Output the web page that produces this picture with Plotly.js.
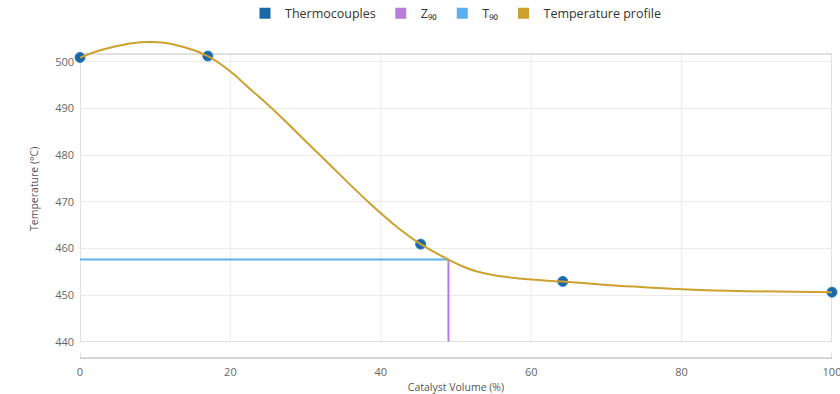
<!DOCTYPE html>
<html>
<head>
<meta charset="utf-8">
<script src="https://cdn.plot.ly/plotly-3.0.1.min.js"></script>
<style>html,body{margin:0;padding:0;background:#fff;}#chart{width:840px;height:394px;}</style>
</head>
<body>
<div id="chart"></div>
<script>
// Thermocouple readings
const tcVolume = [0, 17.0, 45.3, 64.2, 100];
const tcTemp = [500.9, 501.2, 460.9, 452.9, 450.6];

// Temperature profile curve
const profileVolume = [0, 4, 9.7, 14.1, 17.0, 20, 22.5, 25.5, 31.9, 38.3, 42.6, 45.3, 49.0, 51.4, 53.6, 56, 60, 64.2, 73.6, 82.4, 100];
const profileTemp = [500.9, 503.0, 504.2, 503.0, 501.2, 497.9, 494.3, 490, 480, 470, 464.0, 460.9, 457.6, 455.8, 454.7, 454.0, 453.3, 452.9, 451.8, 451.1, 450.6];

// Z90 / T90 markers
const z90 = 49.0;
const t90 = 457.6;

// Axis ticks
const xTicks = [0, 20, 40, 60, 80, 100];
const yTicks = [440, 450, 460, 470, 480, 490, 500];
const yMin = 440, yFrameTop = 501.65, yTop = 505.5;

const cBlue = '#1a68a8', cPurple = '#b57edc', cLight = '#5db0ec', cGold = '#cda12d';

const traces = [
  {x: [0, z90], y: [t90, t90], mode: 'lines', line: {color: cLight, width: 2}, showlegend: false, hoverinfo: 'skip'},
  {x: [z90, z90], y: [yMin, t90], mode: 'lines', line: {color: cPurple, width: 2}, showlegend: false, hoverinfo: 'skip'},
  {x: tcVolume, y: tcTemp, mode: 'markers', marker: {color: cBlue, size: 10, line: {color: '#2b7fc2', width: 1}}, showlegend: false, cliponaxis: false},
  {x: profileVolume, y: profileTemp, mode: 'lines', line: {color: cGold, width: 2, shape: 'spline', smoothing: 1.3}, showlegend: false},
  // legend entries
  {x: [null], y: [null], mode: 'markers', name: 'Thermocouples', marker: {symbol: 'square', size: 11, color: cBlue}},
  {x: [null], y: [null], mode: 'markers', name: 'Z₉₀', marker: {symbol: 'square', size: 11, color: cPurple}},
  {x: [null], y: [null], mode: 'markers', name: 'T₉₀', marker: {symbol: 'square', size: 11, color: cLight}},
  {x: [null], y: [null], mode: 'markers', name: 'Temperature profile', marker: {symbol: 'square', size: 11, color: cGold}}
];

const shapes = [];
xTicks.slice(1, -1).forEach(v => shapes.push({type: 'line', xref: 'x', yref: 'y', x0: v, x1: v, y0: yMin, y1: yFrameTop, line: {color: '#ebebeb', width: 1}, layer: 'below'}));
shapes.push({type: 'rect', xref: 'x', yref: 'y', x0: 0, x1: 100, y0: yMin, y1: yFrameTop, line: {color: '#d6d6d6', width: 1.5}, layer: 'below'});
[0, 100].forEach(v => shapes.push({type: 'line', xref: 'x', yref: 'paper', x0: v, x1: v, y0: 0, y1: 0.014, line: {color: '#d6d6d6', width: 1.5}}));

const layout = {
  width: 840, height: 394,
  margin: {l: 80, r: 8, t: 36, b: 37, autoexpand: false},
  paper_bgcolor: '#fff', plot_bgcolor: '#fff',
  font: {family: 'Open Sans, sans-serif', color: '#666', size: 11},
  showlegend: true,
  legend: {orientation: 'h', x: 0.5, xanchor: 'center', y: 1.07, yanchor: 'middle', font: {size: 12.5, color: '#333'}, itemwidth: 30},
  xaxis: {range: [0, 100], anchor: 'free', position: 0, showgrid: false, zeroline: false, showline: true, linecolor: '#d6d6d6', linewidth: 1.5,
          tickvals: xTicks, ticks: '', ticklabelstandoff: 4, ticklabeloverflow: 'allow', tickfont: {size: 11, color: '#666'},
          title: {text: 'Catalyst Volume (%)', font: {size: 10.5, color: '#555'}, standoff: 6}},
  yaxis: {range: [yMin, yTop], domain: [0.0477, 1], showgrid: true, gridcolor: '#ebebeb', gridwidth: 1, zeroline: false, showline: false,
          tickvals: yTicks, ticks: '', ticklabelstandoff: 5, tickfont: {size: 11, color: '#666'},
          title: {text: 'Temperature (°C)', font: {size: 10.5, color: '#555'}, standoff: 14}},
  shapes: shapes
};

Plotly.newPlot('chart', traces, layout, {displayModeBar: false, staticPlot: true});
</script>
</body>
</html>
